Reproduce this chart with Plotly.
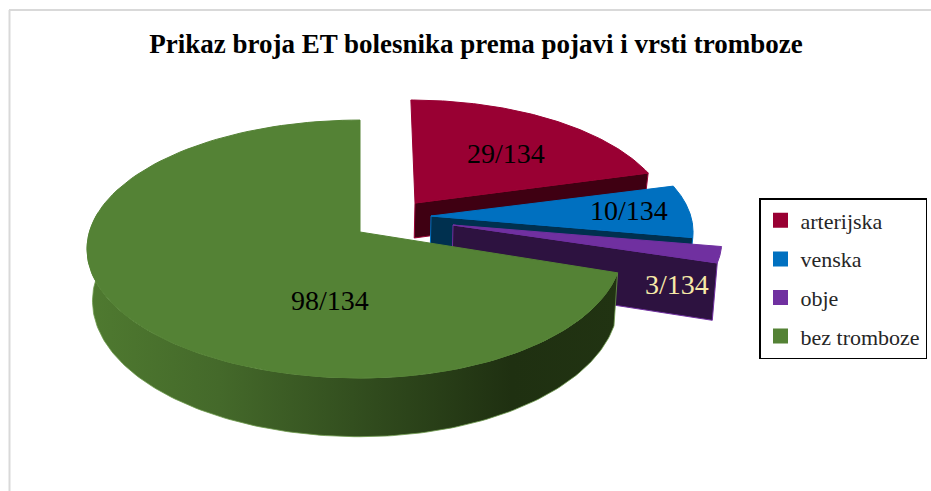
import numpy as np
import plotly.graph_objects as go

# --- data ---
categories = ["arterijska", "venska", "obje", "bez tromboze"]
values = [29, 10, 3, 98]
total_label = 134
label_colors = ["#000000", "#000000", "#F7E9A8", "#000000"]

# --- styling ---
top_colors = ["#990033", "#0070C0", "#7030A0", "#548235"]
side_colors = ["#3F0012", "#00304F", "#2D1240", "#2A4017"]
W, H = 931, 491
R, RT, K = 270.6, 126.7, 0.132
# apex x, apex y, scale x right, scale x left, scale y, extrusion depth, lean
geometry = [
    (415, 203, 0.93, 0.93, 0.92, 35, 0.04),
    (431, 216, 0.96, 0.96, 0.93, 45, 0.0),
    (453, 225, 0.985, 0.985, 0.93, 55, 0.0),
    (360, 232, 0.96, 1.0, 1.0, 51, 0.0),
]
label_pos = [(506, 153), (629, 210), (677, 284), (330, 300)]


def rim(theta, g):
    ax, ay, sxr, sxl, sy, _, lean = g
    u, v = np.sin(theta), -np.cos(theta)
    s = 1 / (1 - K * v)
    sx = np.where(u >= 0, sxr, sxl)
    dy = sy * RT * v * s
    return ax + sx * R * u * s + lean * dy, ay + dy, s


def drop(x, y, s, depth):
    conv = np.where(x >= 360, 0.014, 0.02)
    return x + (360 - x) * conv, y + depth * s


fig = go.Figure()
fractions = np.array(values) / sum(values)
edges = np.concatenate([[0], np.cumsum(fractions)]) * 2 * np.pi

for i, g in enumerate(geometry):
    depth = g[5]
    a0, a1 = edges[i], edges[i + 1]
    if i < 3:  # inner radial face, seen on the exploded slices
        x1, y1, s1 = rim(np.array([a1]), g)
        ex = np.array([g[0], x1[0]])
        ey = np.array([g[1], y1[0]])
        es = np.array([1.0, s1[0]])
        bx, by = drop(ex, ey, es, depth)
        fig.add_trace(go.Scatter(
            x=np.r_[ex, bx[::-1], ex[0]], y=np.r_[ey, by[::-1], ey[0]],
            mode="lines", fill="toself", fillcolor=side_colors[i],
            line=dict(color=top_colors[i], width=1), showlegend=False, hoverinfo="skip"))
    else:  # curved outer wall of the main slice
        th = np.linspace(a0, 1.55 * np.pi, 160)
        tx, ty, ts = rim(th, g)
        bx, by = drop(tx, ty, ts, depth)
        fig.add_trace(go.Scatter(
            x=np.r_[tx, bx[::-1], tx[0]], y=np.r_[ty, by[::-1], ty[0]],
            mode="lines", fill="toself",
            fillgradient=dict(type="horizontal", colorscale=[
                [0, "#4F7A30"], [0.25, "#44692A"], [0.5, "#334F1F"],
                [0.8, "#1F3011"], [1, "#213312"]]),
            line=dict(color="#6E9B4E", width=0.8), showlegend=False, hoverinfo="skip"))
    th = np.linspace(a0, a1, 120)
    tx, ty, _ = rim(th, g)
    fig.add_trace(go.Scatter(
        x=np.r_[g[0], tx, g[0]], y=np.r_[g[1], ty, g[1]],
        mode="lines", fill="toself", fillcolor=top_colors[i],
        line=dict(color=top_colors[i], width=1), showlegend=False, hoverinfo="skip"))

# legend entries
for i, c in enumerate(categories):
    fig.add_trace(go.Scatter(
        x=[None], y=[None], mode="markers", name=c, legendgroup=c,
        marker=dict(symbol="square", size=15, color=top_colors[i])))

# slice labels
for i, v in enumerate(values):
    fig.add_annotation(x=label_pos[i][0], y=label_pos[i][1], text=f"{v}/{total_label}",
                       showarrow=False, font=dict(family="Liberation Serif", size=28, color=label_colors[i]))

# frame of the original chart
fig.add_shape(type="line", x0=9.5, x1=9.5, y0=10, y1=491, line=dict(color="#D9D9D9", width=2))
fig.add_shape(type="line", x0=9, x1=931, y0=10, y1=10, line=dict(color="#D9D9D9", width=2))

fig.update_layout(
    width=W, height=H, margin=dict(l=0, r=0, t=0, b=0),
    paper_bgcolor="white", plot_bgcolor="white",
    xaxis=dict(range=[0, W], visible=False, fixedrange=True),
    yaxis=dict(range=[H, 0], visible=False, fixedrange=True),
    title=dict(text="<b>Prikaz broja ET bolesnika prema pojavi i vrsti tromboze</b>",
               x=476 / W, xanchor="center", y=1 - 44 / H, yanchor="middle",
               font=dict(family="Liberation Serif", size=27, color="#000000")),
    legend=dict(x=927 / W, xanchor="right", y=1 - 198 / H, yanchor="top",
                bordercolor="#000000", borderwidth=1.5, bgcolor="white",
                font=dict(family="Liberation Serif", size=22, color="#262626"),
                tracegroupgap=7, traceorder="grouped", itemwidth=30),
    showlegend=True,
)
fig.write_html("out.html", config={"displayModeBar": False},
               post_script="document.body.style.margin='0';document.body.style.overflow='hidden';")
